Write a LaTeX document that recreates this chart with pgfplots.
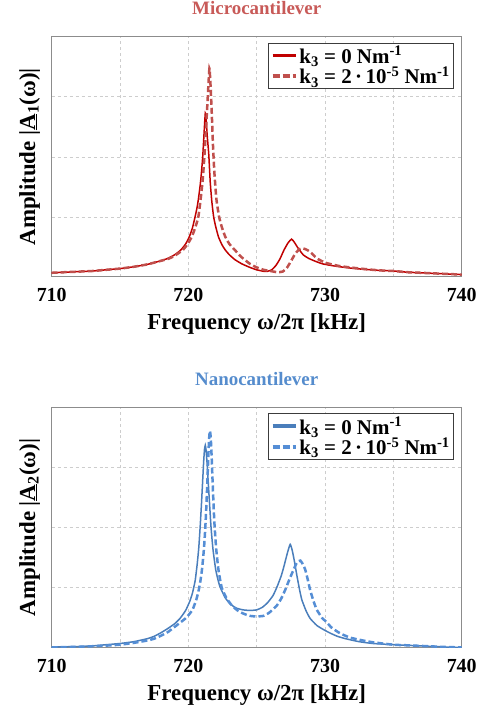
\documentclass[border=0pt]{standalone}
\usepackage{fontspec}
\setmainfont{Liberation Serif}
\usepackage{pgfplots}
\pgfplotsset{compat=1.18}
\definecolor{redA}{RGB}{192,0,0}
\definecolor{redB}{RGB}{192,80,77}
\definecolor{redT}{RGB}{200,90,88}
\definecolor{blueA}{RGB}{74,126,187}
\definecolor{blueB}{RGB}{85,142,213}
\definecolor{blueT}{RGB}{85,140,205}
\definecolor{gridc}{RGB}{205,205,205}
\definecolor{framec}{RGB}{140,140,140}
\definecolor{legc}{RGB}{60,60,60}

\pgfplotsset{
 myaxis/.style={
   scale only axis, width=410bp, height=240.3bp,
   xmin=710,xmax=740,ymin=0,ymax=4,
   xtick={710,715,...,740}, xticklabels={710,,720,,730,,740},
   ytick={1,2,3}, yticklabels={},
   major tick length=0pt,
   grid=major, major grid style={gridc, dashed, line width=0.6bp},
   axis line style={framec, line width=1bp},
   /pgf/number format/assume math mode=true,
   xticklabel style={font=\fontsize{20}{24}\selectfont\bfseries, anchor=base, yshift=-24.7bp},
   xlabel style={font=\fontsize{23}{27}\selectfont\bfseries, at={(axis description cs:0.5,0)}, anchor=base, yshift=-53bp},
   ylabel style={font=\fontsize{23}{27}\selectfont\bfseries, at={(axis description cs:-0.0407,0.5)}, anchor=base},
   title style={font=\fontsize{19}{22}\selectfont\bfseries, at={(axis description cs:0.5,1)}, anchor=base, yshift=16bp},
   legend style={at={(1,1)}, anchor=north east, xshift=-7.4bp, yshift=-6bp,
     draw=legc, line width=1bp, font=\fontsize{21}{24}\selectfont\bfseries,
     inner xsep=2bp, inner ysep=1bp, row sep=-2bp},
   legend cell align=left,
   legend image code/.code={\draw[##1, line width=3.5bp, dash pattern=on 7bp off 3bp] (0bp,0bp) -- (23bp,0bp);},
   xlabel={Frequency ω/2π [kHz]},
 },
 solidleg/.style={legend image code/.code={\draw[##1, line width=3.5bp] (0bp,0bp) -- (23bp,0bp);}},
}

\begin{document}
\begin{tikzpicture}
\path[use as bounding box] (0,0) rectangle (480bp,713bp);

% ---------- Microcantilever ----------
\begin{axis}[myaxis, at={(51.7bp,436bp)}, anchor=south west,
  title={\color{redT}Microcantilever},
  ylabel={Amplitude |\underline{A}\textsubscript{1}(ω)|}]
\addplot[redA, line width=1.5bp, smooth, tension=0.3, solidleg] coordinates {
(710,0.07)(711,0.08)(712,0.09)(713,0.10)(714,0.12)(715,0.14)(716,0.17)(717,0.21)(717.5,0.24)(718,0.27)(718.5,0.31)(719.0,0.37)(719.45,0.45)(719.8,0.55)(720.07,0.67)(720.3,0.82)(720.49,1.0)(720.63,1.15)(720.73,1.29)(720.85,1.5)(720.93,1.67)(721.05,2.0)(721.15,2.4)(721.24,2.73)(721.3,2.62)(721.38,2.35)(721.49,2.05)(721.6,1.58)(721.72,1.25)(721.85,1.0)(722.0,0.84)(722.2,0.67)(722.45,0.54)(722.7,0.45)(723.0,0.37)(723.4,0.29)(723.9,0.22)(724.5,0.16)(725.0,0.12)(725.5,0.095)(725.8,0.095)(726.1,0.12)(726.4,0.19)(726.7,0.30)(727.0,0.45)(727.3,0.57)(727.55,0.63)(727.75,0.58)(728.0,0.49)(728.4,0.37)(728.8,0.31)(729.2,0.27)(729.8,0.22)(730.5,0.19)(731.1,0.17)(732,0.145)(733,0.125)(734,0.11)(735,0.10)(736,0.08)(737,0.07)(738,0.06)(739,0.05)(740,0.04)
};
\addlegendentry{k\textsubscript{3} = 0 Nm\textsuperscript{-1}}
\addplot[redB, line width=2.5bp, dash pattern=on 6bp off 3bp, smooth, tension=0.3] coordinates {
(710,0.07)(711,0.08)(712,0.09)(713,0.10)(714,0.12)(715,0.14)(716,0.17)(717,0.21)(718,0.27)(718.5,0.30)(718.9,0.34)(719.3,0.40)(719.6,0.45)(719.95,0.55)(720.25,0.67)(720.5,0.82)(720.73,1.0)(720.9,1.3)(721.05,1.62)(721.17,2.0)(721.3,2.5)(721.42,3.0)(721.54,3.47)(721.62,3.2)(721.7,2.8)(721.8,2.2)(721.9,1.75)(722.05,1.3)(722.25,1.0)(722.45,0.83)(722.7,0.67)(723.0,0.55)(723.4,0.45)(723.75,0.36)(724.1,0.29)(724.5,0.22)(725.0,0.16)(725.5,0.12)(726.0,0.10)(726.5,0.08)(726.9,0.09)(727.2,0.15)(727.5,0.26)(727.8,0.38)(728.1,0.46)(728.3,0.48)(728.6,0.46)(728.9,0.42)(729.4,0.31)(730.0,0.24)(730.5,0.21)(731.1,0.18)(732,0.155)(733,0.13)(734,0.11)(735,0.10)(736,0.08)(737,0.07)(738,0.06)(739,0.05)(740,0.04)
};
\addlegendentry{k\textsubscript{3} = 2\,·\,10\textsuperscript{-5} Nm\textsuperscript{-1}}
\end{axis}

% ---------- Nanocantilever ----------
\begin{axis}[myaxis, at={(51.7bp,65.3bp)}, anchor=south west,
  title={\color{blueT}Nanocantilever},
  ylabel={Amplitude |\underline{A}\textsubscript{2}(ω)|}]
\addplot[blueA, line width=1.5bp, smooth, tension=0.3, solidleg] coordinates {
(710,0.01)(711,0.015)(712,0.02)(713,0.03)(714,0.05)(715,0.07)(716,0.10)(717,0.15)(717.5,0.19)(718,0.25)(718.5,0.32)(719.0,0.40)(719.4,0.49)(719.8,0.62)(720.1,0.77)(720.3,0.91)(720.5,1.12)(720.65,1.4)(720.76,1.66)(720.86,2.0)(720.96,2.4)(721.04,2.75)(721.12,3.1)(721.18,3.3)(721.24,3.37)(721.3,3.28)(721.36,3.1)(721.45,2.77)(721.55,2.4)(721.66,2.0)(721.8,1.64)(722.0,1.3)(722.2,1.1)(722.34,1.0)(722.7,0.83)(723.05,0.73)(723.5,0.66)(724.0,0.63)(724.5,0.62)(725.0,0.63)(725.4,0.67)(725.8,0.75)(726.2,0.87)(726.5,1.02)(726.8,1.2)(727.0,1.36)(727.25,1.58)(727.45,1.72)(727.6,1.62)(727.75,1.45)(727.95,1.19)(728.15,0.95)(728.3,0.80)(728.6,0.62)(728.9,0.49)(729.4,0.37)(729.9,0.30)(730.4,0.24)(730.9,0.19)(731.5,0.15)(732.5,0.10)(733.5,0.07)(735,0.05)(736,0.04)(737,0.03)(738,0.02)(739,0.01)(740,0.005)
};
\addlegendentry{k\textsubscript{3} = 0 Nm\textsuperscript{-1}}
\addplot[blueB, line width=2.5bp, dash pattern=on 6bp off 3bp, smooth, tension=0.3] coordinates {
(710,0.005)(712,0.015)(714,0.035)(715,0.05)(716,0.08)(717,0.12)(717.5,0.15)(718,0.20)(718.5,0.26)(718.9,0.33)(719.3,0.40)(719.85,0.50)(720.3,0.63)(720.58,0.80)(720.73,0.93)(720.86,1.08)(720.98,1.27)(721.08,1.49)(721.16,1.71)(721.24,2.0)(721.32,2.37)(721.4,2.82)(721.48,3.30)(721.53,3.52)(721.58,3.61)(721.64,3.49)(721.71,3.14)(721.8,2.61)(721.9,2.1)(722.03,1.66)(722.2,1.3)(722.44,1.0)(722.8,0.82)(723.2,0.70)(723.6,0.62)(724.0,0.57)(724.5,0.53)(725.0,0.52)(725.5,0.53)(725.9,0.58)(726.2,0.64)(726.5,0.71)(726.8,0.82)(727.1,0.97)(727.4,1.14)(727.7,1.30)(727.95,1.42)(728.2,1.45)(728.4,1.38)(728.55,1.30)(728.75,1.12)(728.9,0.97)(729.15,0.78)(729.4,0.63)(729.8,0.49)(730.0,0.45)(730.5,0.33)(731.1,0.24)(731.8,0.17)(732.55,0.13)(733.5,0.09)(735,0.05)(736,0.04)(737,0.03)(738,0.02)(739,0.01)(740,0.005)
};
\addlegendentry{k\textsubscript{3} = 2\,·\,10\textsuperscript{-5} Nm\textsuperscript{-1}}
\end{axis}
\end{tikzpicture}
\end{document}
